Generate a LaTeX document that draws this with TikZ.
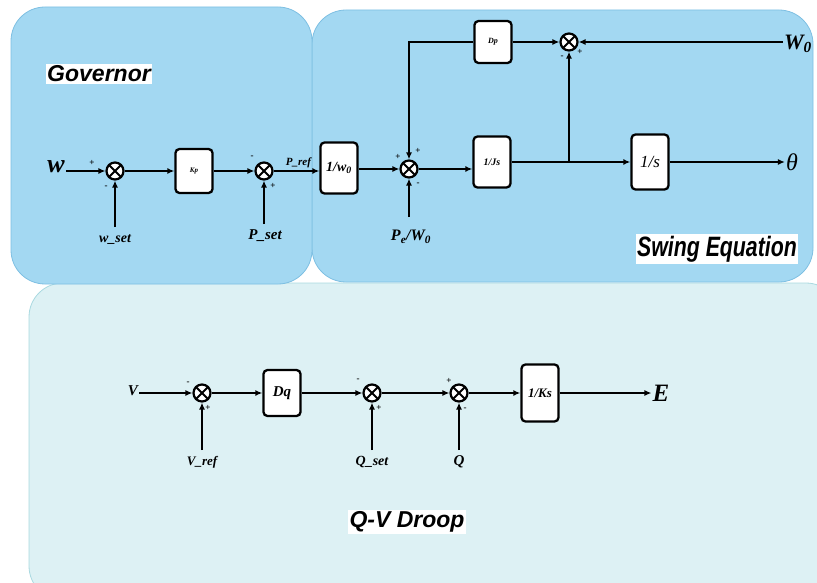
\documentclass[tikz,border=0pt]{standalone}
\usepackage{fontspec}
\setmainfont{Liberation Serif}
\setsansfont{Liberation Sans}
\usepackage{xcolor}
\usetikzlibrary{arrows.meta,positioning,calc}
\definecolor{govfill}{HTML}{A3D8F2}
\definecolor{govline}{HTML}{7DBFE2}
\definecolor{qvfill}{HTML}{DDF1F4}
\definecolor{qvline}{HTML}{A9D9E0}
\newcommand{\fsz}[1]{\fontsize{#1}{#1}\selectfont}

\tikzset{
  panel/.style={rounded corners=34pt,line width=0.8pt},
  blk/.style={draw,fill=white,rounded corners=4pt,line width=2.3pt,minimum width=37pt,minimum height=46pt,inner sep=1pt},
  sumj/.style={draw,circle,fill=white,minimum size=17pt,inner sep=0pt,line width=2.2pt,
    path picture={\draw[line width=1.8pt] (path picture bounding box.north west)--(path picture bounding box.south east)
      (path picture bounding box.north east)--(path picture bounding box.south west);}},
  arr/.style={-{Latex[length=7pt,width=6pt]},line width=1.7pt},
  sig/.style={font=\bfseries\fsz{9},inner sep=0pt},
  lab/.style={inner sep=1pt},
  ttl/.style={fill=white,inner sep=1.5pt,font=\sffamily\bfseries\itshape\fsz{23}}
}

\begin{document}
\begin{tikzpicture}[x=1pt,y=-1pt]
  \useasboundingbox (0,0) rectangle (817,583);
  % panels
  \draw[panel,fill=qvfill,draw=qvline] (29,283) rectangle (840,600);
  \draw[panel,fill=govfill,draw=govline] (312,10) rectangle (813,282);
  \draw[panel,fill=govfill,draw=govline] (11,7) rectangle (312,284);
  \node[ttl] (govttl) at (99,74) {Governor};
  \node[ttl,font=\sffamily\bfseries\itshape\fsz{28},xscale=0.76] (swgttl) at (717,249) {Swing Equation};
  \node[ttl] (qvttl) at (407,522) {Q-V Droop};

  % governor
  \node[lab,font=\itshape\bfseries\fsz{26}] (win) at (56,167) {w};
  \node[sumj] (gsumA) at (115,171) {};
  \node[blk,minimum height=44pt,font=\itshape\bfseries\fsz{7}] (kp) at (194,171) {Kp};
  \node[sumj] (gsumB) at (264,171) {};
  \node[blk,minimum height=51pt,font=\itshape\bfseries\fsz{14}] (invw) at (339,168) {1/w\textsubscript{0}};
  \node[lab,font=\itshape\bfseries\fsz{14}] (wset) at (115,240) {w\_set};
  \node[lab,font=\itshape\bfseries\fsz{15}] (pset) at (265,236) {P\_set};
  \coordinate (wsetend) at (115,227);
  \coordinate (psetend) at (264,224);
  \draw[arr] (win.east |- gsumA) -- (gsumA);
  \draw[arr] (wsetend) -- (gsumA);
  \draw[arr] (gsumA) -- (kp);
  \draw[arr] (kp) -- (gsumB);
  \draw[arr] (psetend) -- (gsumB);
  \draw[arr] (gsumB) -- (gsumB -| invw.west) node[lab,midway,above,font=\itshape\bfseries\fsz{11},xshift=2pt,yshift=1pt] {P\_ref};
  \node[sig] at (92,163) {+};
  \node[sig] at (106,187) {-};
  \node[sig] at (252,157) {-};
  \node[sig] at (273,186) {+};

  % swing equation
  \node[sumj] (ssum) at (409,169) {};
  \node[blk,minimum height=42pt,font=\itshape\bfseries\fsz{8}] (dp) at (493,42) {Dp};
  \node[sumj] (wsum) at (569,42) {};
  \node[blk,minimum height=51pt,font=\itshape\bfseries\fsz{10}] (invjs) at (492,162) {1/Js};
  \node[blk,minimum height=55pt,font=\itshape\fsz{17}] (invs) at (650,162) {1/s};
  \node[lab,font=\itshape\bfseries\fsz{16}] (pelab) at (411,237) {P\textsubscript{e}/W\textsubscript{0}};
  \node[lab,font=\itshape\bfseries\fsz{22}] (wzero) at (798,44) {W\textsubscript{0}};
  \node[lab,font=\itshape\fsz{24}] (theta) at (792,162) {θ};
  \coordinate (peend) at (409,217);
  \coordinate (br) at (569,162);
  \draw[arr] (invw.east |- ssum) -- (ssum);
  \draw[arr] (peend) -- (ssum);
  \draw[arr] (dp.west) -| (ssum.north);
  \draw[arr] (dp) -- (wsum);
  \draw[arr] (wzero.west |- wsum) -- (wsum);
  \draw[arr] (ssum) -- (ssum -| invjs.west);
  \draw[arr] (invjs) -- (invs);
  \draw[arr] (br) -- (wsum);
  \draw[arr] (invs) -- (theta);
  \node[sig] at (398,157) {+};
  \node[sig] at (418,151) {+};
  \node[sig] at (418,184) {-};
  \node[sig] at (562,57) {-};
  \node[sig] at (580,52) {+};

  % Q-V droop
  \node[lab,font=\itshape\bfseries\fsz{15}] (vin) at (133,391) {V};
  \node[sumj] (qsumA) at (202,393) {};
  \node[blk,minimum height=46pt,font=\itshape\bfseries\fsz{15}] (dq) at (282,393) {Dq};
  \node[sumj] (qsumB) at (372,393) {};
  \node[sumj] (qsumC) at (459,393) {};
  \node[blk,minimum height=57pt,font=\itshape\bfseries\fsz{13}] (invks) at (540,393) {1/Ks};
  \node[lab,font=\itshape\bfseries\fsz{25}] (eout) at (661,393) {E};
  \node[lab,font=\itshape\bfseries\fsz{13}] (vref) at (202,462) {V\_ref};
  \node[lab,font=\itshape\bfseries\fsz{14}] (qset) at (372,462) {Q\_set};
  \node[lab,font=\itshape\bfseries\fsz{15}] (qlab) at (459,462) {Q};
  \coordinate (vrefend) at (202,450);
  \coordinate (qsetend) at (372,450);
  \coordinate (qend) at (459,450);
  \draw[arr] (vin.east |- qsumA) -- (qsumA);
  \draw[arr] (vrefend) -- (qsumA);
  \draw[arr] (qsumA) -- (dq);
  \draw[arr] (dq) -- (qsumB);
  \draw[arr] (qsetend) -- (qsumB);
  \draw[arr] (qsumB) -- (qsumC);
  \draw[arr] (qend) -- (qsumC);
  \draw[arr] (qsumC) -- (invks);
  \draw[arr] (invks) -- (eout);
  \node[sig] at (188,383) {-};
  \node[sig] at (208,408) {+};
  \node[sig] at (358,380) {-};
  \node[sig] at (379,408) {+};
  \node[sig] at (449,381) {+};
  \node[sig] at (465,409) {-};
\end{tikzpicture}
\end{document}
